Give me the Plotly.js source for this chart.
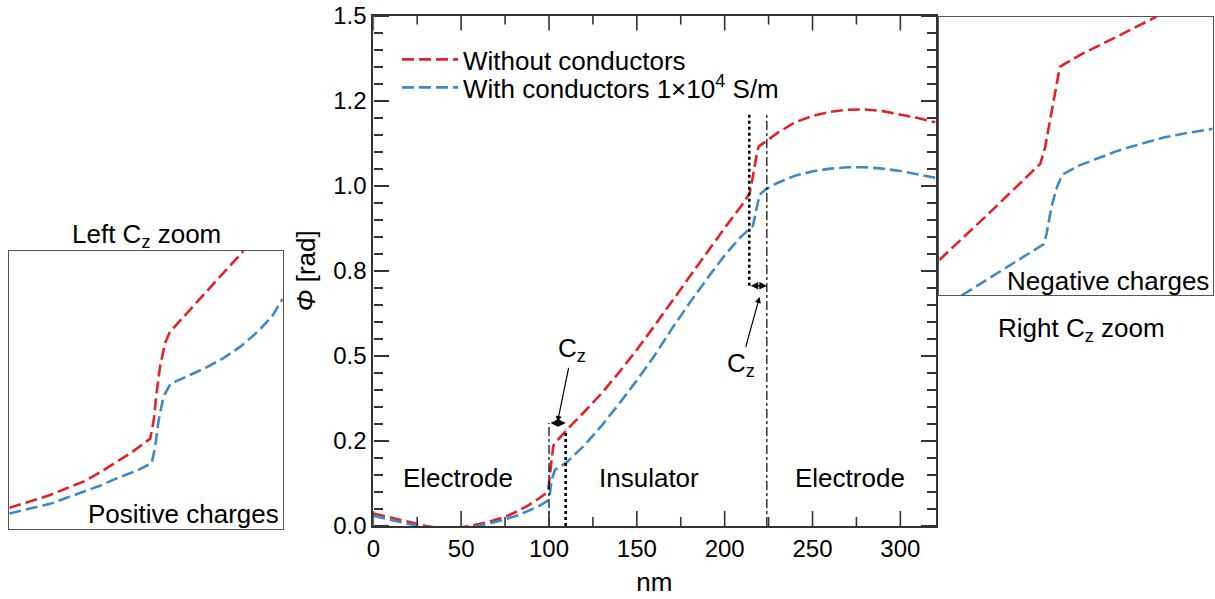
<!DOCTYPE html>
<html>
<head>
<meta charset="utf-8">
<script src="https://cdn.plot.ly/plotly-3.0.1.min.js"></script>
<style>
  html, body { margin: 0; padding: 0; background: #ffffff; }
  #chart { width: 1215px; height: 599px; }
</style>
</head>
<body>
<div id="chart"></div>
<script>
// ---------------- data (nm, rad) ----------------
const redX  = [0, 10, 20, 30, 42, 55, 65, 75, 82, 88, 94, 97.5, 99.6, 100.6, 101.5, 102.5, 104.3, 106.3, 110, 120, 130, 140, 150, 160, 170, 180, 190, 200, 210, 214.2, 215.5, 217, 218.5, 219.5, 223.6, 230, 240, 250, 260, 270, 280, 290, 300, 310, 320];
const redY  = [0.037, 0.024, 0.011, 0.000, -0.010, 0.000, 0.011, 0.027, 0.043, 0.060, 0.080, 0.093, 0.106, 0.145, 0.195, 0.236, 0.250, 0.260, 0.282, 0.335, 0.390, 0.452, 0.518, 0.588, 0.660, 0.732, 0.804, 0.876, 0.944, 0.978, 1.010, 1.057, 1.100, 1.116, 1.130, 1.155, 1.186, 1.205, 1.217, 1.223, 1.224, 1.219, 1.210, 1.199, 1.186];

const blueX = [0, 10, 20, 27, 42, 59, 66, 74, 82, 88, 94, 98.7, 100.2, 101.5, 103.4, 106.5, 110, 120, 130, 140, 150, 160, 170, 180, 190, 200, 208.5, 213, 216.1, 218, 219.9, 223.6, 230, 240, 250, 260, 270, 280, 290, 300, 310, 320];
const blueY = [0.030, 0.017, 0.006, 0.000, -0.012, 0.000, 0.007, 0.018, 0.031, 0.044, 0.058, 0.072, 0.081, 0.135, 0.165, 0.175, 0.187, 0.236, 0.295, 0.360, 0.428, 0.500, 0.580, 0.655, 0.727, 0.795, 0.846, 0.868, 0.882, 0.929, 0.974, 0.990, 1.008, 1.029, 1.042, 1.050, 1.054, 1.054, 1.050, 1.043, 1.034, 1.023];

// left C_z zoom (inset)
const leftRedX  = [79, 82, 84.8, 87, 89.6, 92, 94.3, 96.5, 99.1, 99.6, 100.0, 100.5, 101.2, 101.9, 106.2, 112.4];
const leftRedY  = [0.027, 0.035, 0.043, 0.051, 0.060, 0.072, 0.085, 0.097, 0.114, 0.137, 0.171, 0.204, 0.234, 0.248, 0.290, 0.350];
const leftBlueX = [79, 82, 84.8, 87, 89.6, 92, 94.3, 97, 99.3, 99.8, 100.3, 101.0, 102.0, 104.5, 107, 109.5, 112, 114.5, 116.5, 118.0];
const leftBlueY = [0.020, 0.026, 0.032, 0.039, 0.047, 0.055, 0.064, 0.073, 0.083, 0.103, 0.137, 0.167, 0.183, 0.193, 0.203, 0.215, 0.230, 0.249, 0.268, 0.290];

// right C_z zoom (inset)
const rightRedX  = [200, 207, 214.4, 215.1, 215.8, 216.5, 217.2, 220.1, 222.5, 224.9, 227.8, 231.0];
const rightRedY  = [0.859, 0.917, 0.980, 1.001, 1.035, 1.068, 1.102, 1.117, 1.128, 1.138, 1.151, 1.165];
const rightBlueX = [203.2, 208.2, 214.9, 215.3, 216.0, 216.8, 217.5, 220, 222.5, 225, 227.2, 230, 232, 235.5, 239.0];
const rightBlueY = [0.8145, 0.842, 0.879, 0.892, 0.926, 0.951, 0.966, 0.978, 0.987, 0.995, 1.001, 1.008, 1.013, 1.019, 1.024];

// tick labels
const xTickVals = [0, 50, 100, 150, 200, 250, 300];
const yTickVals = [0, 0.25, 0.5, 0.75, 1.0, 1.25, 1.5];
const yTickText = ['0.0', '0.2', '0.5', '0.8', '1.0', '1.2', '1.5'];

const seriesNames = ['Without conductors', 'With conductors 1×10<sup>4</sup> S/m'];

const czLeft = [100, 109.5];
const czRight = [214, 224];
const czLeftLevel = 0.303;
const czRightLevel = 0.706;
const czTop = 1.21;

const regionNames = ['Electrode', 'Insulator', 'Electrode'];
const regionX = [48.2, 157, 271.3];
const regionY = 0.141;

// ---------------- styling ----------------
const RED = '#e2212b';
const BLUE = '#3f89c5';
const FONT = 'Arial, "Liberation Sans", sans-serif';
const AX = '#333333';
const DASH = '12px,5px';
const X_RANGE = [0, 320];
const Y_RANGE = [0, 1.5];
const MAJOR_LEN = 15, MINOR_LEN = 9;

const W = 1215, H = 599;
const px = v => v / W;
const py = v => 1 - v / H;
const mainX = [px(373.3), px(935.5)];
const mainY = [py(526), py(15.5)];

const traces = [
  {x: redX, y: redY, name: seriesNames[0], mode: 'lines', legend: 'legend',
   line: {color: RED, width: 2.6, dash: DASH}, xaxis: 'x', yaxis: 'y'},
  {x: blueX, y: blueY, name: seriesNames[1], mode: 'lines', legend: 'legend2',
   line: {color: BLUE, width: 2.6, dash: DASH}, xaxis: 'x', yaxis: 'y'},
  {x: leftRedX, y: leftRedY, mode: 'lines', showlegend: false,
   line: {color: RED, width: 2.6, dash: DASH}, xaxis: 'x2', yaxis: 'y2'},
  {x: leftBlueX, y: leftBlueY, mode: 'lines', showlegend: false,
   line: {color: BLUE, width: 2.6, dash: DASH}, xaxis: 'x2', yaxis: 'y2'},
  {x: rightRedX, y: rightRedY, mode: 'lines', showlegend: false,
   line: {color: RED, width: 2.6, dash: DASH}, xaxis: 'x3', yaxis: 'y3'},
  {x: rightBlueX, y: rightBlueY, mode: 'lines', showlegend: false,
   line: {color: BLUE, width: 2.6, dash: DASH}, xaxis: 'x3', yaxis: 'y3'},
  // empty traces registering the y tick-frame axes
  {x: [], y: [], mode: 'lines', showlegend: false, hoverinfo: 'skip', xaxis: 'x', yaxis: 'y5'},
  {x: [], y: [], mode: 'lines', showlegend: false, hoverinfo: 'skip', xaxis: 'x', yaxis: 'y6'}
];

const insetAxis = (dom, rng) => ({
  domain: dom, range: rng, showline: true, mirror: true, linecolor: '#555555', linewidth: 1.3,
  ticks: '', showticklabels: false, showgrid: false, zeroline: false
});

const shapes = [
  {type: 'line', xref: 'x', yref: 'y', x0: czLeft[0], x1: czLeft[0], y0: 0, y1: czLeftLevel,
   line: {color: '#000', width: 1.2, dash: 'dashdot'}},
  {type: 'line', xref: 'x', yref: 'y', x0: czLeft[1], x1: czLeft[1], y0: 0, y1: czLeftLevel - 0.02,
   line: {color: '#000', width: 2.6, dash: 'dot'}},
  {type: 'line', xref: 'x', yref: 'y', x0: czRight[0], x1: czRight[0], y0: czRightLevel, y1: czTop,
   line: {color: '#000', width: 2.6, dash: 'dot'}},
  {type: 'line', xref: 'x', yref: 'y', x0: czRight[1], x1: czRight[1], y0: 0, y1: czTop,
   line: {color: '#000', width: 1.2, dash: 'dashdot'}}
];

// inward x tick marks on the bottom and top edges (major at tick values, minor halfway),
// with tick length converted from pixels to y units of the main plot
const plotHeightPx = (mainY[1] - mainY[0]) * H;
const yPerPx = (Y_RANGE[1] - Y_RANGE[0]) / plotHeightPx;
const xMinorVals = xTickVals.map(v => v + 25).filter(v => v < X_RANGE[1]);
const xTickShape = (xv, len, edge, dir) => ({
  type: 'line', xref: 'x', yref: 'y', x0: xv, x1: xv, y0: edge, y1: edge + dir * len * yPerPx,
  line: {color: AX, width: 1.6, dash: 'solid'}
});
xTickVals.forEach(v => {
  shapes.push(xTickShape(v, MAJOR_LEN, Y_RANGE[0], 1));
  shapes.push(xTickShape(v, MAJOR_LEN, Y_RANGE[1], -1));
});
xMinorVals.forEach(v => {
  shapes.push(xTickShape(v, MINOR_LEN, Y_RANGE[0], 1));
  shapes.push(xTickShape(v, MINOR_LEN, Y_RANGE[1], -1));
});

const annFont = {family: FONT, size: 26, color: '#000'};
const annotations = [];
regionNames.forEach((t, i) => annotations.push({
  xref: 'x', yref: 'y', x: regionX[i], y: regionY, text: t, showarrow: false, font: annFont
}));
annotations.push({xref: 'x', yref: 'y', axref: 'x', ayref: 'y', x: czLeft[1], y: czLeftLevel,
  ax: czLeft[0], ay: czLeftLevel, text: '', showarrow: true, arrowside: 'end+start',
  arrowhead: 2, arrowsize: 1, arrowwidth: 1.5, arrowcolor: '#000', standoff: 0, startstandoff: 0});
annotations.push({xref: 'x', yref: 'y', axref: 'x', ayref: 'y', x: czRight[1], y: czRightLevel,
  ax: czRight[0], ay: czRightLevel, text: '', showarrow: true, arrowside: 'end+start',
  arrowhead: 2, arrowsize: 1, arrowwidth: 1.5, arrowcolor: '#000', standoff: 0, startstandoff: 0});
annotations.push({xref: 'x', yref: 'y', x: (czLeft[0] + czLeft[1]) / 2, y: czLeftLevel, ax: 15, ay: -73,
  text: 'C<sub>z</sub>', font: annFont, showarrow: true, arrowhead: 2, arrowsize: 1,
  arrowwidth: 1.2, arrowcolor: '#000', standoff: 1});
annotations.push({xref: 'x', yref: 'y', x: (czRight[0] + czRight[1]) / 2 + 1, y: czRightLevel - 0.03, ax: -19, ay: 69,
  text: 'C<sub>z</sub>', font: annFont, showarrow: true, arrowhead: 2, arrowsize: 1,
  arrowwidth: 1.2, arrowcolor: '#000', standoff: 1});
annotations.push({xref: 'x2 domain', yref: 'y2 domain', x: 0.5, y: 1, xanchor: 'center', yanchor: 'bottom',
  yshift: -3, text: 'Left C<sub>z</sub> zoom', showarrow: false, font: annFont});
annotations.push({xref: 'x2 domain', yref: 'y2 domain', x: 1, y: 0, xanchor: 'right', yanchor: 'bottom',
  xshift: -2, yshift: -2, text: 'Positive charges', showarrow: false, font: annFont});
annotations.push({xref: 'x3 domain', yref: 'y3 domain', x: 1, y: 0, xanchor: 'right', yanchor: 'bottom',
  xshift: -2, yshift: -3, text: 'Negative charges', showarrow: false, font: annFont});
annotations.push({xref: 'x3 domain', yref: 'y3 domain', x: 0.52, y: 0, xanchor: 'center', yanchor: 'top',
  yshift: -16, text: 'Right C<sub>z</sub> zoom', showarrow: false, font: annFont});

const legendBase = {
  xanchor: 'left', yanchor: 'top', bgcolor: 'rgba(0,0,0,0)', borderwidth: 0,
  font: {family: FONT, size: 26, color: '#000'}, itemwidth: 56
};

const tickFont = {family: FONT, size: 24, color: '#000'};

const hidden = {showline: false, ticks: '', showticklabels: false, showgrid: false, zeroline: false};

// y tick frames: outward ticks of an axis placed on the opposite edge point into the plot
const yTickFrame = (side, pos) => Object.assign({}, hidden, {
  domain: mainY, range: Y_RANGE, overlaying: 'y', anchor: 'free', position: pos, side: side,
  tickmode: 'array', tickvals: yTickVals, ticks: 'outside', ticklen: MAJOR_LEN, tickwidth: 1.6, tickcolor: AX,
  minor: {tickmode: 'linear', tick0: 0, dtick: 0.05, ticks: 'outside', ticklen: MINOR_LEN, tickwidth: 1.6, tickcolor: AX, showgrid: false}
});

const layout = {
  width: W, height: H,
  margin: {l: 0, r: 0, t: 0, b: 0, pad: 0},
  paper_bgcolor: '#fff', plot_bgcolor: 'rgba(0,0,0,0)',
  font: {family: FONT, size: 24, color: '#000'},
  showlegend: true,
  legend: Object.assign({x: px(397), y: py(36)}, legendBase),
  legend2: Object.assign({x: px(397), y: py(64)}, legendBase),
  xaxis: {
    domain: mainX, range: X_RANGE, tickvals: xTickVals,
    ticks: '', showline: true, linecolor: AX, linewidth: 2, mirror: true,
    showgrid: false, zeroline: false, tickfont: tickFont,
    title: {text: 'nm', font: {family: FONT, size: 26, color: '#000'}, standoff: 12},
    anchor: 'y'
  },
  yaxis: {
    domain: mainY, range: Y_RANGE, tickvals: yTickVals, ticktext: yTickText,
    ticks: '', showline: true, linecolor: AX, linewidth: 2, mirror: true,
    showgrid: false, zeroline: false, tickfont: tickFont,
    title: {text: '<i>Φ</i> [rad]', font: {family: FONT, size: 26, color: '#000'}, standoff: 10},
    anchor: 'x'
  },
  yaxis5: yTickFrame('right', mainX[0]),
  yaxis6: yTickFrame('left', mainX[1]),
  xaxis2: Object.assign(insetAxis([px(9.3), px(282.7)], [79, 118]), {anchor: 'y2'}),
  yaxis2: Object.assign(insetAxis([py(529.3), py(251)], [0, 0.35]), {anchor: 'x2'}),
  xaxis3: Object.assign(insetAxis([px(939.3), px(1212.7)], [200, 239]), {anchor: 'y3'}),
  yaxis3: Object.assign(insetAxis([py(295), py(16.7)], [0.815, 1.165]), {anchor: 'x3'}),
  shapes: shapes,
  annotations: annotations
};

Plotly.newPlot('chart', traces, layout, {displayModeBar: false});
</script>
</body>
</html>
